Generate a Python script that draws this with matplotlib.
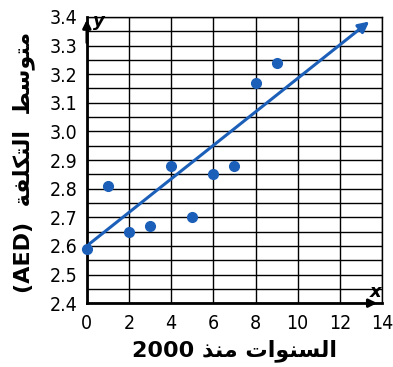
import matplotlib.pyplot as plt
from matplotlib.ticker import MultipleLocator

# data
years = [0, 1, 2, 3, 4, 5, 6, 7, 8, 9]
cost = [2.59, 2.81, 2.65, 2.67, 2.88, 2.70, 2.85, 2.88, 3.17, 3.24]
trend_x = [0, 13.5]
trend_y = [2.6, 3.39]
x_ticks = [0, 2, 4, 6, 8, 10, 12, 14]
y_ticks = [2.4, 2.5, 2.6, 2.7, 2.8, 2.9, 3.0, 3.1, 3.2, 3.3, 3.4]

# Arabic written in presentation forms, visual order (no shaping in matplotlib)
ylab = "(AED)  \ufe94\ufed4\ufee0\ufedc\ufe98\ufedf\ufe8d  \ufec2\ufeb3\ufeee\ufe98\ufee3"
xlab = "2000 \ufeac\ufee8\ufee3 \ufe95\ufe8d\ufeee\ufee8\ufeb4\ufedf\ufe8d"

blue = "#1c5fb8"

fig = plt.figure(figsize=(3.93, 3.67), dpi=100)
ax = fig.add_axes([0.221, 0.174, 0.751, 0.780])

ax.set_xlim(0, 14)
ax.set_ylim(2.4, 3.4)
ax.set_xticks(x_ticks)
ax.set_yticks(y_ticks)
ax.yaxis.set_minor_locator(MultipleLocator(0.05))
ax.set_yticklabels([f"{v:.1f}" for v in y_ticks])
ax.grid(True, which="both", color="black", linewidth=1.0)
ax.tick_params(which="both", length=0)
ax.tick_params(labelsize=14)
ax.tick_params(axis="x", pad=8)
ax.tick_params(axis="y", pad=7)
for lbl in ax.get_xticklabels() + ax.get_yticklabels():
    lbl.set_family("DejaVu Sans")
    lbl.set_stretch("condensed")

for s in ["top", "right"]:
    ax.spines[s].set_linewidth(1.0)
for s in ["left", "bottom"]:
    ax.spines[s].set_linewidth(2.0)

# axis arrows
ax.annotate("", xy=(13.9, 2.4), xytext=(13.2, 2.4),
            arrowprops=dict(arrowstyle="-|>", color="black", lw=2, mutation_scale=12),
            annotation_clip=False)
ax.annotate("", xy=(0, 3.4), xytext=(0, 3.3),
            arrowprops=dict(arrowstyle="-|>", color="black", lw=2, mutation_scale=12),
            annotation_clip=False)
ax.text(0.3, 3.385, "y", fontsize=13, fontweight="bold", style="italic", va="center")
ax.text(13.4, 2.44, "x", fontsize=13, fontweight="bold", style="italic", va="center")

# trend line
ax.annotate("", xy=(trend_x[1], trend_y[1]), xytext=(trend_x[0], trend_y[0]),
            arrowprops=dict(arrowstyle="-|>", color=blue, lw=2.2, mutation_scale=16),
            annotation_clip=False)
ax.plot(years, cost, "o", color=blue, markersize=7, clip_on=False, zorder=5)

ax.set_xlabel(xlab, fontsize=16, fontweight="bold", family="DejaVu Sans", labelpad=4)
ax.set_ylabel(ylab, fontsize=16, fontweight="bold", family="DejaVu Sans")
ax.yaxis.set_label_coords(-0.175, 0.49)

plt.savefig("out.png", dpi=100)
plt.close()
